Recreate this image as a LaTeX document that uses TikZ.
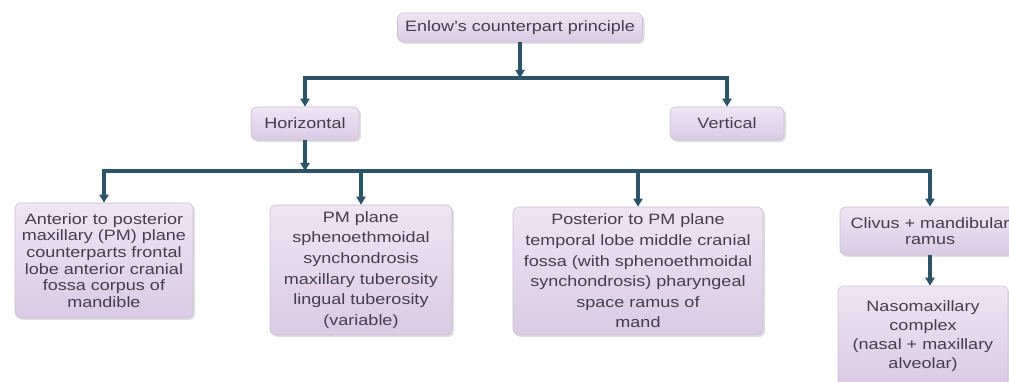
\documentclass[tikz,border=0pt]{standalone}
\usepackage{fontspec}
\setmainfont{Liberation Sans}[FakeStretch=1.2]
\usetikzlibrary{arrows.meta,shadows}
\definecolor{linec}{HTML}{2A5569}
\definecolor{txtc}{HTML}{453C4E}
\definecolor{boxtop}{HTML}{EEE6F3}
\definecolor{boxbot}{HTML}{DACAE5}
\definecolor{boxedge}{HTML}{CDBFD8}
\tikzset{
  conn/.style={draw=linec, line width=3.2pt, -{Triangle[length=8pt,width=9pt]}},
  boxs/.style={rectangle, rounded corners=6pt, draw=boxedge, line width=0.6pt,
    top color=boxtop, bottom color=boxbot, text=txtc, align=center, inner sep=2pt,
    drop shadow={opacity=0.25, shadow xshift=2pt, shadow yshift=-2pt}},
  tight/.style={font=\fontsize{15}{16.6}\selectfont},
  loose/.style={font=\fontsize{15}{20.6}\selectfont},
  mid/.style={font=\fontsize{15}{19}\selectfont},
}
\begin{document}
\begin{tikzpicture}[x=1pt,y=-1pt]
\useasboundingbox[fill=white] (0,0) rectangle (1009,382);
\clip (0,0) rectangle (1009,382);
\node[boxs, tight, minimum width=245pt, minimum height=29pt] (top) at (520,27.5) {Enlow's counterpart principle};
\node[boxs, tight, minimum width=108pt, minimum height=33pt] (horiz) at (305,123.5) {Horizontal};
\node[boxs, tight, minimum width=114pt, minimum height=33pt] (vert) at (727,123.5) {Vertical};

\node[boxs, tight, minimum width=178pt, minimum height=115pt] (b1) at (104,260.5)
  {Anterior to posterior\\maxillary (PM) plane\\counterparts frontal\\lobe anterior cranial\\fossa corpus of\\mandible};
\node[boxs, loose, minimum width=182pt, minimum height=130pt] (b2) at (361,270)
  {PM plane\\sphenoethmoidal\\synchondrosis\\maxillary tuberosity\\lingual tuberosity\\(variable)};
\node[boxs, loose, minimum width=250pt, minimum height=128pt] (b3) at (638,271)
  {Posterior to PM plane\\temporal lobe middle cranial\\fossa (with sphenoethmoidal\\synchondrosis) pharyngeal\\space ramus of\\mand};
\node[boxs, tight, minimum width=180pt, minimum height=48pt] (b4) at (930,231)
  {Clivus + mandibular\\ramus};
\node[boxs, mid, minimum width=170pt, minimum height=100pt] (b5) at (923,336)
  {Nasomaxillary\\complex\\(nasal + maxillary\\alveolar)};

\coordinate (j1) at (520,78);
\coordinate (j2) at (305,171);

\draw[conn] (top.south) -- (j1);
\draw[conn] (j1) -| (horiz.north);
\draw[conn] (j1) -| (vert.north);
\draw[conn] (horiz.south) -- (j2);
\draw[conn] (j2) -| (b1.north);
\draw[conn] (j2) -| (b2.north);
\draw[conn] (j2) -| (b3.north);
\draw[conn] (j2) -| (b4.north);
\draw[conn] (b4.south) -- (b4.south |- b5.north);
\end{tikzpicture}
\end{document}
